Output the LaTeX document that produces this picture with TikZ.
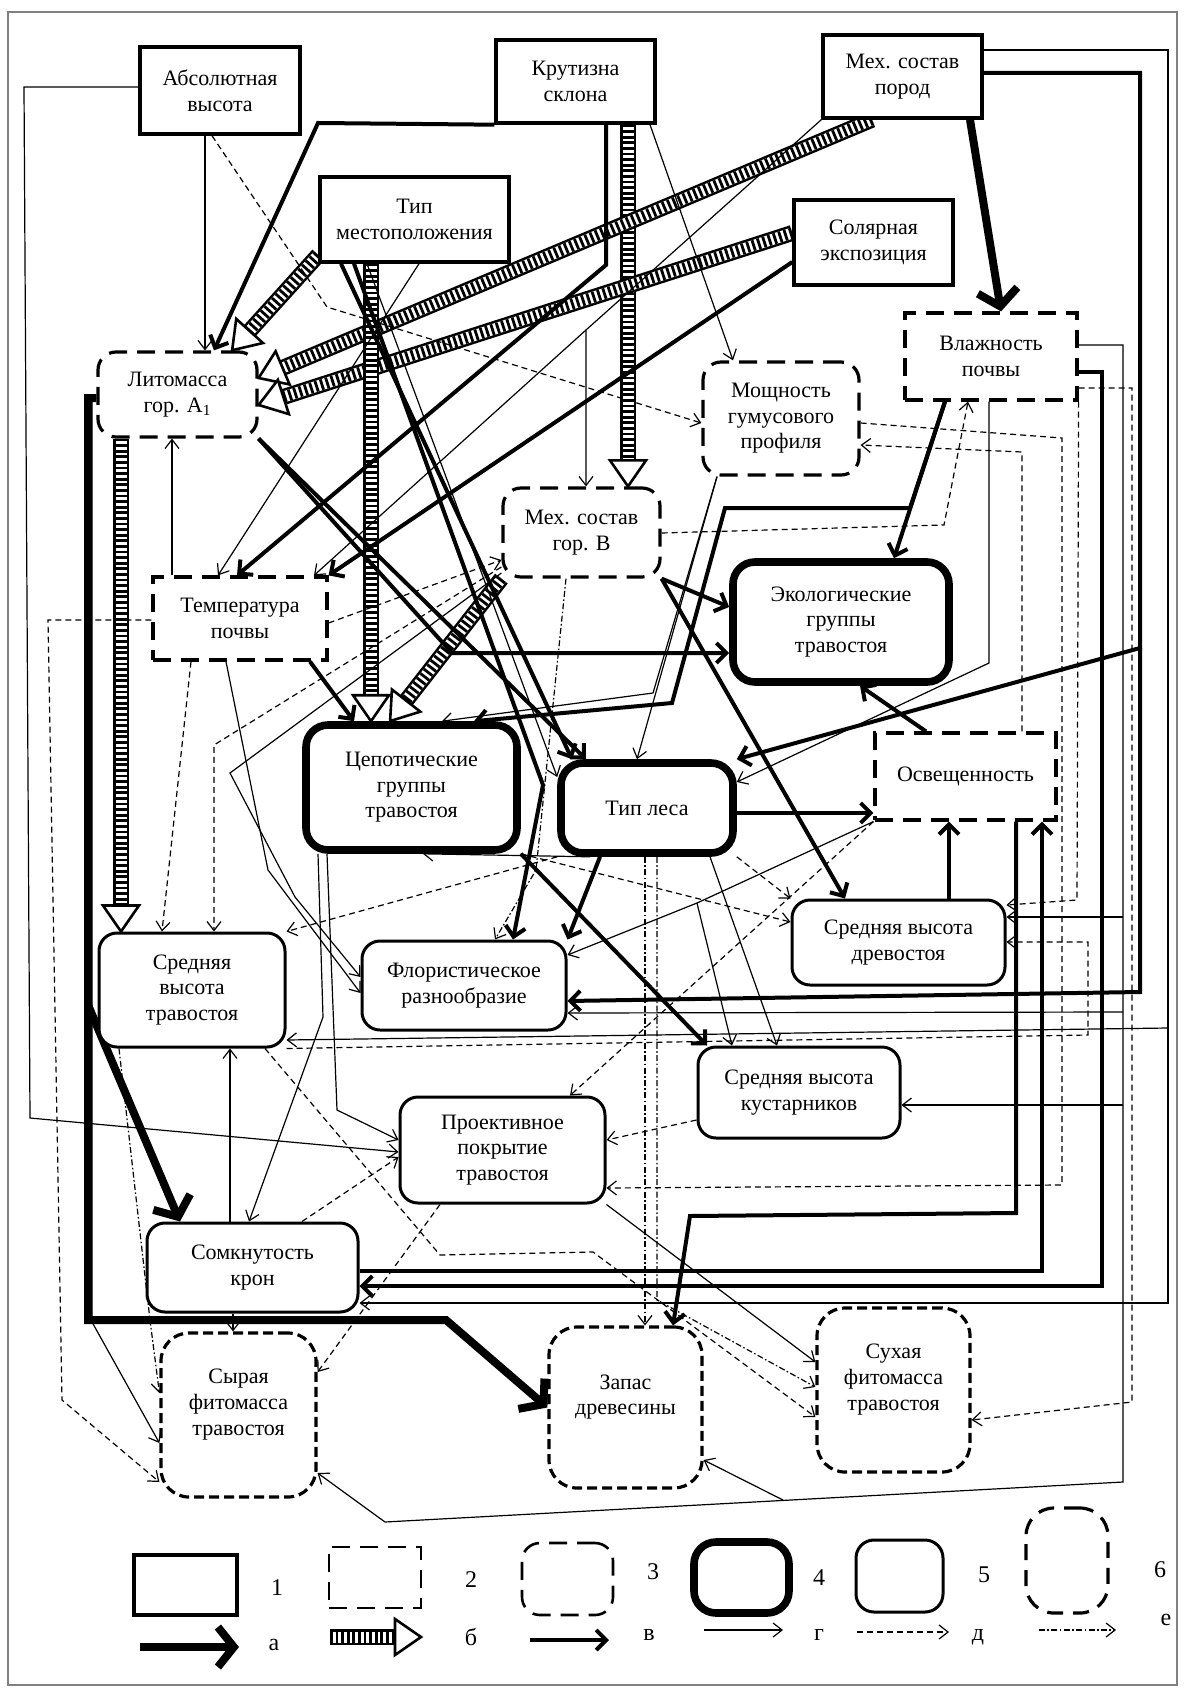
\documentclass[tikz,border=0pt]{standalone}
\usepackage{fontspec}
\setmainfont{Liberation Serif}
\usetikzlibrary{arrows.meta,decorations.markings,backgrounds}

\begin{document}
\begin{tikzpicture}[x=0.5pt,y=-0.5pt]
	\tikzstyle{every node}=[font=\fontsize{11}{12.8}\selectfont, align=center, fill=white, inner sep=2pt]
	\tikzstyle{t1}=[draw, line width=1.7pt]
	\tikzstyle{t2}=[draw, line width=1.6pt, dash pattern=on 9pt off 5pt]
	\tikzstyle{t3}=[t2, rounded corners=9pt]
	\tikzstyle{t4}=[draw, line width=3.8pt, rounded corners=11pt]
	\tikzstyle{t5}=[draw, line width=1.5pt, rounded corners=9pt]
	\tikzstyle{t6}=[draw, line width=1.6pt, rounded corners=14pt, dash pattern=on 5pt off 2.5pt]
	\tikzstyle{aa}=[line width=4pt, -{Straight Barb[length=8pt, width=20pt]}]
	\tikzstyle{thk}=[line width=2pt, -{Straight Barb[length=5pt, width=10pt]}]
	\tikzstyle{thn}=[line width=0.6pt, -{Straight Barb[length=4.5pt, width=7pt]}]
	\tikzstyle{dsh}=[thn, dash pattern=on 3pt off 2pt]
	\tikzstyle{dt}=[thn, dash pattern=on 3pt off 1.2pt on 0.8pt off 1.2pt]
	\tikzstyle{hat}=[line width=5.5pt, dash pattern=on 1.4pt off 1.4pt, shorten >=11pt,
		preaction={draw, solid, line width=8pt, shorten >=11pt},
		preaction={draw, solid, white, line width=5.5pt, shorten >=11pt},
		decoration={markings, mark=at position 1 with {\draw[solid, line width=1.3pt, fill=white, shorten >=0pt] (-13pt,-9pt) -- (0pt,0pt) -- (-13pt,9pt) -- cycle;}},
		postaction={decorate}]
	\tikzstyle{num}=[fill=none, font=\fontsize{12}{14}\selectfont]

	\useasboundingbox (0,0) rectangle (1184,1690);

	\node[t1, minimum width=80pt, minimum height=43.5pt] (abs) at (220,90.5) {Абсолютная\\высота};
	\node[t1, minimum width=79.5pt, minimum height=41.5pt] (slope) at (575.5,81.5) {Крутизна\\склона};
	\node[t1, minimum width=79.5pt, minimum height=41.5pt] (mech) at (902.5,76.5) {Мех. состав\\пород};
	\node[t1, minimum width=94.5pt, minimum height=42.5pt] (tip) at (414.5,219.5) {Тип\\местоположения};
	\node[t1, minimum width=79.5pt, minimum height=42.5pt] (solar) at (873.5,242.5) {Солярная\\экспозиция};
	\node[t3, minimum width=79.5pt, minimum height=42.5pt] (lito) at (177.5,394.5) {Литомасса\\гор. А\textsubscript{1}};
	\node[t2, minimum width=86pt, minimum height=43.5pt] (moist) at (991,356.5) {Влажность\\почвы};
	\node[t3, minimum width=78pt, minimum height=56.5pt] (humus) at (781,418.5) {Мощность\\гумусового\\профиля};
	\node[t3, minimum width=78.5pt, minimum height=44.5pt] (mechB) at (581.5,532.5) {Мех. состав\\гор. В};
	\node[t2, minimum width=87pt, minimum height=41.5pt] (temp) at (240,618.5) {Температура\\почвы};
	\node[t4, minimum width=108pt, minimum height=60pt] (eco) at (841,622) {Экологические\\группы\\травостоя};
	\node[t4, minimum width=105.5pt, minimum height=62.5pt] (ceno) at (411.5,787.5) {Цепотические\\группы\\травостоя};
	\node[t4, minimum width=86pt, minimum height=45pt] (forest) at (647,808) {Тип леса};
	\node[t2, minimum width=90.5pt, minimum height=43.5pt] (light) at (965.5,776.5) {Освещенность};
	\node[t5, minimum width=106.5pt, minimum height=42.5pt] (htree) at (898.5,942.5) {Средняя высота\\древостоя};
	\node[t5, minimum width=93pt, minimum height=57pt] (hherb) at (192,990) {Средняя\\высота\\травостоя};
	\node[t5, minimum width=102pt, minimum height=44.5pt] (flor) at (464,985.5) {Флористическое\\разнообразие};
	\node[t5, minimum width=101pt, minimum height=45.5pt] (hshrub) at (799,1092.5) {Средняя высота\\кустарников};
	\node[t5, minimum width=102.5pt, minimum height=53pt] (proj) at (502.5,1150) {Проективное\\покрытие\\травостоя};
	\node[t5, minimum width=105.5pt, minimum height=44.5pt] (crown) at (252.5,1267.5) {Сомкнутость\\крон};
	\node[t6, minimum width=77.5pt, minimum height=82pt] (raw) at (238.5,1415) {Сырая\\фитомасса\\травостоя\\\mbox{}};
	\node[t6, minimum width=76.5pt, minimum height=80.5pt] (stock) at (625.5,1407.5) {Запас\\древесины\\\mbox{}};
	\node[t6, minimum width=76.5pt, minimum height=82pt] (dry) at (893.5,1390) {Сухая\\фитомасса\\травостоя\\\mbox{}};

	\node[t1, minimum width=51.5pt, minimum height=30pt] (l1) at (185.5,1585) {};
	\node[t2, line width=1.3pt, minimum width=46pt, minimum height=30.5pt] (l2) at (375,1577.5) {};
	\node[t3, line width=1.3pt, minimum width=45.5pt, minimum height=36pt] (l3) at (567.5,1579) {};
	\node[t4, minimum width=47.5pt, minimum height=35.5pt] (l4) at (741.5,1577.5) {};
	\node[t5, minimum width=43.5pt, minimum height=36pt] (l5) at (899.5,1576) {};
	\node[t6, dash pattern=on 8pt off 5pt, minimum width=41pt, minimum height=52.5pt] (l6) at (1067,1560.5) {};
	\node[num] (n1) at (277,1588) {1};
	\node[num] (n2) at (471,1580) {2};
	\node[num] (n3) at (653,1572) {3};
	\node[num] (n4) at (819,1578) {4};
	\node[num] (n5) at (984,1575) {5};
	\node[num] (n6) at (1160,1570) {6};
	\node[num] (na) at (274,1645) {а};
	\node[num] (nb) at (471,1637) {б};
	\node[num] (nv) at (649,1635) {в};
	\node[num] (ng) at (819,1635) {г};
	\node[num] (nd) at (978,1637) {д};
	\node[num] (ne) at (1166,1620) {е};

	\coordinate (lbend) at (88,1005);
	\coordinate (mbr) at (586,330);
	\coordinate (rbend) at (1140,648);
	\coordinate (mhb) at (1168,1028);
	\coordinate (m1) at (1123,917);
	\coordinate (m2) at (1123,1012);
	\coordinate (m3) at (1123,1105);
	\coordinate (m4) at (783,1500);
	\coordinate (lb) at (697,903);
	\coordinate (la0) at (140,1647);
	\coordinate (la1) at (239,1647);
	\coordinate (lb0) at (330,1637);
	\coordinate (lb1) at (421,1637);
	\coordinate (lv0) at (530,1640);
	\coordinate (lv1) at (609,1640);
	\coordinate (lg0) at (704,1630);
	\coordinate (lg1) at (783,1630);
	\coordinate (ld0) at (857,1632);
	\coordinate (ld1) at (949,1632);
	\coordinate (le0) at (1039,1630);
	\coordinate (le1) at (1116,1630);

	\begin{pgfonlayer}{background}
		\draw[gray, line width=0.8pt] (8,12) rectangle (1177,1685);

		\draw[aa] (mech.south -| 970,0) -- (moist.north -| 1001,0);
		\draw[aa] (lito.west |- 0,398) -- (88,398) -- (88,1320) -- (446,1320) -- (stock.west);
		\draw[aa] (lbend) -- (crown.north -| 180,0);

		\draw[hat] (slope.south -| 628,0) -- (mechB.north -| 628,0);
		\draw[hat] (mech.south -| 872,0) -- (lito.east |- 0,378);
		\draw[hat] (solar.west |- 0,233) -- (lito.east |- 0,405);
		\draw[hat] (tip.west |- 0,255) -- (lito.north -| 232,0);
		\draw[hat] (lito.south -| 121,0) -- (hherb.north -| 121,0);
		\draw[hat] (tip.south -| 371,0) -- (ceno.north -| 371,0);
		\draw[hat] (mechB.south west) -- (ceno.north -| 390,0);

		\draw[thk] (slope.south west) -- (318,123) -- (lito.north -| 214,0);
		\draw[thk] (slope.south -| 606,0) -- (606,265) -- (temp.north -| 237,0);
		\draw[thk] (solar.west |- 0,262) -- (temp.north east);
		\draw[thk] (tip.south -| 341,0) -- (forest.north -| 572,0);
		\draw[thk] (tip.south -| 354,0) -- (543,785) -- (flor.north -| 513,0);
		\draw[thk] (lito.south east) -- (forest.north -| 586,0);
		\draw[thk] (lito.south east) -- (452,653) -- (eco.west |- 0,653);
		\draw[thk] (mechB.south east) -- (htree.north -| 845,0);
		\draw[thk] (mechB.south east) -- (eco.west |- 0,607);
		\draw[thk] (temp.south -| 310,0) -- (ceno.north -| 354,0);
		\draw[thk] (moist.south -| 945,0) -- (eco.north -| 894,0);
		\draw[thk] (moist.south -| 945,0) -- (910,508) -- (725,508) -- (672,703) -- (ceno.north -| 474,0);
		\draw[thk] (light.north -| 926,0) -- (eco.south -| 860,0);
		\draw[thk] (forest.east |- 0,813) -- (light.west |- 0,813);
		\draw[thk] (htree.north -| 949,0) -- (light.south -| 949,0);
		\draw[thk] (mech.east |- 0,73) -- (1140,73) -- (rbend) -- (forest.north east);
		\draw[thk] (rbend) -- (1140,992) -- (flor.east |- 0,1001);
		\draw[thk] (light.south -| 1016,0) -- (1016,1213) -- (690,1216) -- (stock.north -| 673,0);
		\draw[thk] (crown.east |- 0,1271) -- (1042,1271) -- (light.south -| 1042,0);
		\draw[thk] (moist.east |- 0,372) -- (1102,372) -- (1102,1286) -- (crown.east |- 0,1286);
		\draw[thk] (forest.south -| 600,0) -- (flor.north east);
		\draw[thk] (ceno.south east) -- (hshrub.north -| 707,0);

		\draw[thn] (abs.south -| 205,0) -- (lito.north -| 205,0);
		\draw[thn] (abs.west |- 0,87) -- (24,87) -- (30,1118) -- (proj.west |- 0,1152);
		\draw[thn] (slope.south -| 650,0) -- (humus.north -| 733,0);
		\draw[thn] (mech.south west) -- (mbr) -- (mechB.north -| 586,0);
		\draw[thn] (mbr) -- (temp.north -| 314,0);
		\draw[thn] (tip.south -| 419,0) -- (temp.north -| 218,0);
		\draw[thn] (tip.south -| 367,0) -- (forest.west |- 0,777);
		\draw[thn] (temp.north -| 172,0) -- (lito.south -| 172,0);
		\draw[thn] (humus.south -| 717,0) -- (653,693) -- (ceno.north -| 442,0);
		\draw[thn] (humus.south -| 717,0) -- (forest.north -| 637,0);
		\draw[thn] (moist.south -| 989,0) -- (989,663) -- (forest.east |- 0,782);
		\draw[thn] (mech.east |- 0,50) -- (1168,50) -- (1168,1303) -- (crown.east |- 0,1303);
		\draw[thn] (mhb) -- (hherb.east |- 0,1040);
		\draw[thn] (moist.east |- 0,345) -- (1123,345) -- (1123,1482) -- (385,1522) -- (raw.east |- 0,1473);
		\draw[thn] (m1) -- (htree.east |- 0,917);
		\draw[thn] (m2) -- (flor.east |- 0,1013);
		\draw[thn] (m3) -- (hshrub.east |- 0,1105);
		\draw[thn] (m4) -- (stock.east |- 0,1460);
		\draw[thn] (light.south west) -- (lb) -- (flor.east |- 0,955);
		\draw[thn] (lb) -- (hshrub.north -| 732,0);
		\draw[thn] (forest.south -| 710,0) -- (hshrub.north -| 777,0);
		\draw[thn] (proj.south east) -- (dry.west |- 0,1362);
		\draw[thn] (ceno.south -| 327,0) -- (337,1110) -- (proj.west |- 0,1140);
		\draw[thn] (ceno.south -| 318,0) -- (323,1017) -- (crown.north -| 249,0);
		\draw[thn] (crown.north -| 230,0) -- (hherb.south -| 230,0);
		\draw[thn] (crown.south -| 233,0) -- (raw.north -| 233,0);
		\draw[thn] (lito.west |- 0,398) -- (92,398) -- (92,1322) -- (raw.west |- 0,1443);
		\draw[thn] (mechB.west |- 0,573) -- (230,773) -- (295,897) -- (flor.west |- 0,977);
		\draw[thn] (temp.south -| 226,0) -- (268,870) -- (flor.west |- 0,993);
		\draw[thn] (forest.south -| 590,0) -- (ceno.south -| 423,0);

		\draw[dsh] (abs.south -| 212,0) -- (327,307) -- (humus.west |- 0,423);
		\draw[dsh] (light.north -| 1022,0) -- (1022,452) -- (humus.east |- 0,445);
		\draw[dsh] (humus.east |- 0,423) -- (1062,438) -- (1062,1185) -- (proj.east |- 0,1188);
		\draw[dsh] (mechB.east |- 0,533) -- (944,525) -- (moist.south -| 968,0);
		\draw[dsh] (temp.east |- 0,623) -- (mechB.west |- 0,560);
		\draw[dsh] (mechB.west |- 0,567) -- (214,745) -- (hherb.north -| 214,0);
		\draw[dsh] (temp.south -| 191,0) -- (hherb.north -| 162,0);
		\draw[dsh] (temp.west |- 0,620) -- (48,620) -- (62,1400) -- (raw.west |- 0,1482);
		\draw[dsh] (forest.south east) -- (htree.north west);
		\draw[dsh] (ceno.south east) -- (htree.west |- 0,922);
		\draw[dsh] (light.south west) -- (proj.north -| 570,0);
		\draw[dsh] (hshrub.west |- 0,1120) -- (proj.east |- 0,1140);
		\draw[dsh] (crown.north -| 302,0) -- (proj.west |- 0,1157);
		\draw[dsh] (proj.south -| 440,0) -- (raw.east |- 0,1372);
		\draw[dsh] (hherb.south east) -- (1088,1035) -- (1088,942) -- (htree.east |- 0,942);
		\draw[dsh] (hherb.south -| 265,0) -- (440,1255) -- (593,1252) -- (dry.west |- 0,1417);
		\draw[dsh] (moist.south east) -- (1077,900) -- (htree.east |- 0,905);
		\draw[dsh] (moist.east |- 0,388) -- (1132,388) -- (1132,1402) -- (dry.east |- 0,1420);
		\draw[dsh] (forest.south west) -- (hherb.north east);

		\draw[dt] (forest.south -| 645,0) -- (stock.north -| 645,0);
		\draw[dt] (forest.south -| 657,0) -- (657,1300) -- (dry.west |- 0,1387);
		\draw[dt] (mechB.south -| 566,0) -- (536,870) -- (flor.north -| 495,0);
		\draw[dt] (hherb.south -| 119,0) -- (150,1320) -- (raw.west |- 0,1393);

		\draw[aa] (la0) -- (la1);
		\draw[hat] (lb0) -- (lb1);
		\draw[thk] (lv0) -- (lv1);
		\draw[thn] (lg0) -- (lg1);
		\draw[dsh] (ld0) -- (ld1);
		\draw[dt] (le0) -- (le1);
	\end{pgfonlayer}
\end{tikzpicture}
\end{document}
